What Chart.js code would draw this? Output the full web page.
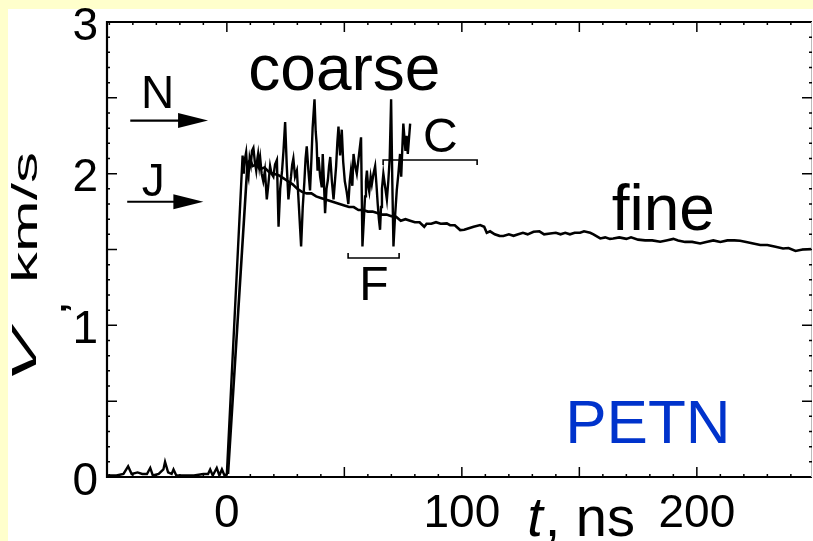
<!DOCTYPE html>
<html>
<head>
<meta charset="utf-8">
<script src="https://cdn.jsdelivr.net/npm/chart.js@4.4.1/dist/chart.umd.min.js"></script>
<style>
  html, body { margin: 0; padding: 0; background: #ffffcc; }
  #wrap { width: 813px; height: 541px; }
</style>
</head>
<body>
<div id="wrap"><canvas id="chart" width="813" height="541"></canvas></div>
<script>
// free-surface velocity traces, PETN: coarse and fine grain
const coarseT = [
  -51, -47, -44, -42, -40.5, -38, -36, -34, -32.6, -31.5, -29, -27, -26.3, -25, -23.5, -22.7, -21.5,
  -18, -14, -10, -8, -7.1, -6, -4.3, -3.2, -2.1, -1, 0,
  6.7, 7.2, 7.5, 8.2, 8.7, 9.2, 9.7, 10.2, 10.7, 11.3,
  11.9, 12.5, 13.0, 13.3, 13.8, 14.2, 14.8, 15.5, 16.2, 17.0,
  17.6, 18.4, 19.0, 19.8, 20.5, 21.3, 22.0, 22.7, 23.5, 24.1,
  24.8, 25.5, 26.2, 26.8, 27.3, 27.8, 28.3, 29.0, 29.8, 30.6,
  31.6, 32.3, 33.0, 33.5, 34.0, 34.7, 35.4, 36.0, 36.5, 37.3,
  37.8, 38.2, 38.6, 39.0, 39.7, 40.4, 40.8, 41.3, 41.8, 42.4,
  43.0, 43.5, 44.0, 44.7, 45.4, 46.0, 46.5, 47.0, 47.5, 48.2,
  48.9, 49.5, 50.2, 51.0, 51.7, 52.3, 52.8, 53.4, 53.9, 54.6,
  55.3, 56.2, 57.1, 57.7, 58.3, 58.8, 59.2, 59.6, 60.1, 60.6,
  61.2, 61.7, 62.4, 63.1, 63.7, 64.2, 64.7, 65.2, 65.6, 66.0,
  66.6, 67.3, 68.1, 68.7, 69.3, 69.9, 70.4, 70.9, 71.5, 72.3,
  73.0, 73.7, 74.2, 74.7, 75.1, 76.0, 76.5, 77.0, 78.0
];
const coarseV = [
  0.01, 0.01, 0.02, 0.07, 0.02, 0.03, 0.02, 0.02, 0.06, 0.01, 0.02, 0.05, 0.10, 0.03, 0.02, 0.05, 0.01,
  0.01, 0.01, 0.02, 0.02, 0.05, 0.01, 0.06, 0.01, 0.05, 0.01, 0.02,
  2.12, 2.00, 2.08, 2.14, 2.02, 1.98, 2.10, 2.06, 2.15, 2.17,
  2.08, 2.02, 2.10, 2.13, 2.05, 2.10, 2.00, 1.95, 2.02, 1.83,
  1.92, 2.05, 2.00, 1.98, 2.06, 2.09, 1.65, 1.90, 2.02, 2.15,
  2.34, 2.05, 1.83, 1.92, 1.98, 2.06, 2.10, 1.98, 2.02, 1.80,
  1.52, 1.78, 1.95, 2.10, 2.18, 2.02, 1.89, 2.10, 2.30, 2.49,
  2.28, 2.20, 2.02, 2.11, 1.98, 1.91, 2.13, 1.95, 1.74, 1.90,
  1.96, 2.05, 2.11, 1.95, 1.83, 1.95, 2.05, 2.20, 2.31, 2.12,
  2.29, 2.08, 1.95, 1.88, 1.80, 1.95, 2.02, 1.92, 2.13, 2.05,
  2.00, 2.12, 2.24, 1.52, 1.70, 1.85, 1.95, 2.02, 1.92, 1.88,
  1.98, 1.93, 2.00, 2.05, 1.92, 1.80, 1.70, 1.63, 1.78, 1.90,
  2.00, 1.92, 1.83, 1.95, 2.10, 2.49, 1.95, 1.52, 1.70, 1.89,
  2.00, 2.13, 1.98, 2.18, 2.33, 2.15, 2.25, 2.13, 2.33
];

const fineT = [
  0.5, 8.8, 10, 11, 12.5, 14, 16, 18, 20, 22, 24, 26, 28, 30, 32, 34, 36, 38, 40, 42, 44, 46, 48,
  50, 52, 54, 56, 58, 60, 62, 64, 66, 68, 70, 72, 74, 76, 78, 80, 82, 84, 85, 87, 89, 91, 93.6,
  95, 97, 99.3, 101, 103, 105, 107.8, 109.5, 110.6, 112, 114, 116, 117.7, 120, 122, 124, 126,
  128, 130.5, 133, 135, 137.6, 140, 142, 144, 146, 148, 150.3, 152, 154.6, 156, 158.9, 161,
  163, 164.4, 167, 170, 172, 175, 178, 181, 184.4, 187, 190, 192, 195, 198, 201.4, 204, 207,
  210, 213, 216, 218.4, 221, 224, 227, 230, 233, 236.7, 239, 242, 245, 249
];
const fineV = [
  0.02, 2.07, 2.09, 2.05, 2.06, 2.03, 2.04, 2.01, 2.00, 1.99, 1.97, 1.95, 1.93, 1.90, 1.88, 1.87,
  1.87, 1.85, 1.84, 1.83, 1.82, 1.81, 1.80, 1.79, 1.78, 1.78, 1.76, 1.76, 1.75, 1.75, 1.74, 1.73,
  1.73, 1.72, 1.716, 1.69, 1.70, 1.69, 1.68, 1.68, 1.65, 1.67, 1.67, 1.68, 1.67, 1.672, 1.66,
  1.66, 1.628, 1.63, 1.64, 1.65, 1.661, 1.65, 1.61, 1.62, 1.60, 1.59, 1.589, 1.60, 1.59, 1.60,
  1.61, 1.60, 1.617, 1.62, 1.60, 1.606, 1.61, 1.60, 1.61, 1.60, 1.61, 1.61, 1.62, 1.61, 1.60,
  1.573, 1.58, 1.57, 1.573, 1.58, 1.57, 1.58, 1.565, 1.56, 1.56, 1.551, 1.56, 1.57, 1.56, 1.55,
  1.55, 1.54, 1.55, 1.56, 1.55, 1.56, 1.56, 1.558, 1.55, 1.54, 1.53, 1.53, 1.52, 1.507, 1.51,
  1.49, 1.50, 1.503
];

const xTicks = [0, 50, 100, 150, 200];
const xLabels = [0, 100, 200];
const yTicks = [0, 0.5, 1, 1.5, 2, 2.5, 3];
const yLabels = [0, 1, 2, 3];

const FONT = '"Liberation Sans", Arial, sans-serif';

function toPoints(ts, vs) {
  return ts.map((t, i) => ({ x: t, y: vs[i] }));
}

function drawArrow(c, x1, x2, y) {
  c.beginPath();
  c.moveTo(x1, y);
  c.lineTo(x2 - 28, y);
  c.stroke();
  c.beginPath();
  c.moveTo(x2, y);
  c.lineTo(x2 - 30, y - 7.5);
  c.lineTo(x2 - 30, y + 7.5);
  c.closePath();
  c.fill();
}

function drawBracket(c, x1, x2, y, dir) {
  c.beginPath();
  c.moveTo(x1, y + dir * 5);
  c.lineTo(x1, y);
  c.lineTo(x2, y);
  c.lineTo(x2, y + dir * 5);
  c.stroke();
}

const framePlugin = {
  id: 'frame',
  beforeDraw(chart) {
    const c = chart.ctx;
    c.save();
    c.fillStyle = '#ffffcc';
    c.fillRect(0, 0, chart.width, chart.height);
    c.fillStyle = '#ffffff';
    c.fillRect(8, 9, chart.width - 8, chart.height - 9);
    c.restore();
  },
  afterDatasetsDraw(chart) {
    const c = chart.ctx;
    const { left, right, top, bottom } = chart.chartArea;
    const xs = chart.scales.x, ys = chart.scales.y;
    const px = v => xs.getPixelForValue(v);
    const py = v => ys.getPixelForValue(v);
    c.save();

    // frame
    c.strokeStyle = '#000';
    c.lineWidth = 2.2;
    c.beginPath();
    c.moveTo(right, top); c.lineTo(left, top); c.lineTo(left, bottom); c.lineTo(right, bottom);
    c.stroke();
    c.strokeStyle = '#bbb';
    c.lineWidth = 1;
    c.beginPath();
    c.moveTo(right - 0.5, top); c.lineTo(right - 0.5, bottom);
    c.stroke();

    // inward ticks on all four sides
    c.strokeStyle = '#000';
    c.lineWidth = 1.5;
    c.beginPath();
    for (let v = -50; v <= 240; v += 10) {
      const major = xTicks.includes(v);
      const len = major ? 10 : 3;
      c.moveTo(px(v), bottom); c.lineTo(px(v), bottom - len);
      c.moveTo(px(v), top); c.lineTo(px(v), top + len);
    }
    for (let i = 1; i < 30; i++) {
      const v = i / 10;
      const major = i % 5 === 0;
      const len = major ? 10 : 3;
      c.moveTo(left, py(v)); c.lineTo(left + len, py(v));
      c.moveTo(right, py(v)); c.lineTo(right - len, py(v));
    }
    c.stroke();

    // markers N and J, brackets C and F
    c.fillStyle = '#000';
    c.lineWidth = 2.2;
    drawArrow(c, px(-41.1), px(-8.0), py(2.35));
    drawArrow(c, px(-42.4), px(-10.0), py(1.815));
    c.lineWidth = 1.6;
    drawBracket(c, px(66.5), px(106.5), py(2.09), 1);
    drawBracket(c, px(51.6), px(73.3), py(1.444), -1);

    c.textBaseline = 'alphabetic';
    c.textAlign = 'left';
    c.font = '46px ' + FONT;
    c.fillText('N', px(-36.5), py(2.432));
    c.fillText('J', px(-36.2), py(1.852));
    c.font = '48px ' + FONT;
    c.fillText('C', px(83.5), py(2.142));
    c.fillText('F', px(56.3), py(1.167));
    c.font = '64px ' + FONT;
    c.textAlign = 'center';
    c.fillText('coarse', px(50), py(2.551));
    c.textAlign = 'left';
    c.fillText('fine', px(163.8), py(1.628));
    c.fillStyle = '#0033cc';
    c.font = '62px ' + FONT;
    c.fillText('PETN', px(144), py(0.224));

    // axis titles
    c.fillStyle = '#000';
    c.font = 'italic 56px ' + FONT;
    const tx = px(127.8), ty = bottom + 59;
    c.fillText('t', tx, ty);
    const tw = c.measureText('t').width;
    c.font = '56px ' + FONT;
    c.fillText(', ns', tx + tw + 2, ty);

    const rotText = (txt, font, bx, by, len) => {
      c.save();
      c.font = font;
      const w = c.measureText(txt).width;
      c.translate(bx, by);
      c.rotate(-Math.PI / 2);
      c.scale(len / w, 1);
      c.fillText(txt, 0, 0);
      c.restore();
    };
    rotText('V', 'italic 35px ' + FONT, 36, 383, 53);
    rotText(',', 'bold 34px ' + FONT, 66, 313, 10);
    rotText('km/s', '35px ' + FONT, 37, 283, 131);
    c.restore();
  }
};

new Chart(document.getElementById('chart'), {
  type: 'line',
  data: {
    datasets: [
      { data: toPoints(coarseT, coarseV), borderColor: '#000', borderWidth: 2.4, pointRadius: 0, tension: 0 },
      { data: toPoints(fineT, fineV), borderColor: '#000', borderWidth: 2.6, pointRadius: 0, tension: 0 }
    ]
  },
  options: {
    responsive: false,
    animation: false,
    layout: { padding: { top: 22, right: 1, left: 0, bottom: 0 } },
    plugins: { legend: { display: false }, tooltip: { enabled: false } },
    scales: {
      x: {
        type: 'linear', min: -51, max: 249,
        afterBuildTicks: s => { s.ticks = xTicks.map(v => ({ value: v })); },
        afterFit: s => { s.height = 64; s.paddingLeft = 0; s.paddingRight = 0; },
        grid: { display: false, drawTicks: false },
        border: { display: false },
        ticks: {
          padding: 10, color: '#000', maxRotation: 0, autoSkip: false,
          font: { family: FONT, size: 46 },
          callback: v => xLabels.includes(v) ? String(v) : ''
        }
      },
      y: {
        type: 'linear', min: 0, max: 3,
        afterBuildTicks: s => { s.ticks = yTicks.map(v => ({ value: v })); },
        afterFit: s => { s.width = 107; s.paddingTop = 0; s.paddingBottom = 0; },
        grid: { display: false, drawTicks: false },
        border: { display: false },
        ticks: {
          padding: 9, labelOffset: 5, color: '#000', autoSkip: false,
          font: { family: FONT, size: 46 },
          callback: v => yLabels.includes(v) ? String(v) : ''
        }
      }
    }
  },
  plugins: [framePlugin]
});
</script>
</body>
</html>
